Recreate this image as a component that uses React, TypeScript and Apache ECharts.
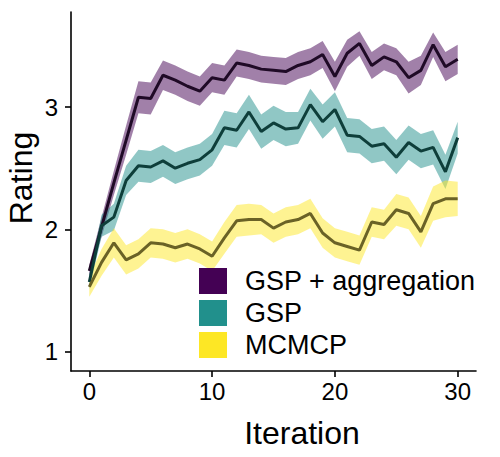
import React, { useEffect, useRef } from "react";
import * as echarts from "echarts";

const iterations = Array.from({ length: 31 }, (_, i) => i);

const aggMean = [1.66, 2.02, 2.38, 2.73, 3.08, 3.07, 3.26, 3.22, 3.17, 3.13, 3.24, 3.22, 3.36, 3.34, 3.31, 3.30, 3.29, 3.34, 3.37, 3.43, 3.25, 3.44, 3.52, 3.34, 3.41, 3.37, 3.24, 3.30, 3.51, 3.33, 3.39];
const aggSe = [0.05, 0.08, 0.10, 0.12, 0.13, 0.13, 0.12, 0.12, 0.12, 0.12, 0.12, 0.12, 0.11, 0.11, 0.11, 0.11, 0.11, 0.11, 0.11, 0.11, 0.12, 0.11, 0.10, 0.11, 0.11, 0.11, 0.13, 0.12, 0.10, 0.12, 0.12];

const gspMean = [1.57, 2.03, 2.10, 2.40, 2.52, 2.51, 2.56, 2.50, 2.54, 2.57, 2.65, 2.83, 2.81, 2.96, 2.80, 2.87, 2.82, 2.83, 3.02, 2.88, 2.98, 2.77, 2.76, 2.68, 2.70, 2.59, 2.71, 2.64, 2.67, 2.47, 2.75];
const gspSe = [0.06, 0.09, 0.11, 0.12, 0.13, 0.13, 0.13, 0.13, 0.13, 0.13, 0.13, 0.14, 0.14, 0.14, 0.14, 0.14, 0.14, 0.13, 0.13, 0.14, 0.14, 0.14, 0.14, 0.14, 0.14, 0.14, 0.14, 0.14, 0.14, 0.14, 0.13];

const mcmcpMean = [1.53, 1.73, 1.89, 1.75, 1.80, 1.89, 1.88, 1.85, 1.88, 1.84, 1.78, 1.93, 2.07, 2.08, 2.08, 2.01, 2.06, 2.08, 2.13, 1.97, 1.89, 1.86, 1.83, 2.06, 2.04, 2.16, 2.13, 1.98, 2.21, 2.25, 2.25];
const mcmcpSe = [0.08, 0.11, 0.12, 0.12, 0.12, 0.12, 0.12, 0.12, 0.12, 0.12, 0.12, 0.13, 0.13, 0.13, 0.12, 0.12, 0.12, 0.12, 0.12, 0.12, 0.12, 0.12, 0.12, 0.12, 0.12, 0.13, 0.13, 0.13, 0.14, 0.15, 0.14];

const groupNames = ["GSP + aggregation", "GSP", "MCMCP"];
const fillColors = ["#440154", "#21908C", "#FDE725"];
const lineColors = ["#1f0a26", "#0e3e3a", "#6a6226"];
const xTicks = [0, 10, 20, 30];
const yTicks = [1, 2, 3];

const FONT = "Liberation Sans, Arial, Helvetica, sans-serif";

export default function App() {
  const ref = useRef<HTMLDivElement>(null);

  useEffect(() => {
    if (!ref.current) return;
    const chart = echarts.init(ref.current, undefined, { renderer: "svg" });

    const groups = [
      { mean: aggMean, se: aggSe },
      { mean: gspMean, se: gspSe },
      { mean: mcmcpMean, se: mcmcpSe },
    ];

    const bandSeries: any[] = [];
    const lineSeries: any[] = [];
    groups.forEach((g, gi) => {
      const rows = iterations.map((x, i) => [x, g.mean[i] - g.se[i], g.mean[i] + g.se[i]]);
      bandSeries.push({
        type: "custom",
        name: groupNames[gi] + " band",
        data: rows,
        silent: true,
        z: 1,
        encode: { x: 0, y: [1, 2] },
        renderItem: (params: any, api: any) => {
          if (params.dataIndex !== 0) return null;
          const upper = rows.map((r) => api.coord([r[0], r[2]]));
          const lower = rows.map((r) => api.coord([r[0], r[1]])).reverse();
          return {
            type: "polygon",
            shape: { points: upper.concat(lower) },
            style: { fill: fillColors[gi], opacity: 0.5 },
          };
        },
      });
      lineSeries.push({
        type: "line",
        name: groupNames[gi],
        data: iterations.map((x, i) => [x, g.mean[i]]),
        symbol: "none",
        lineStyle: { color: lineColors[gi], width: 3 },
        silent: true,
        z: 2,
      });
    });

    const legendItems: any[] = [];
    groupNames.forEach((n, i) => {
      legendItems.push({
        type: "rect",
        z: 10,
        shape: { x: 199, y: 268 + i * 32, width: 28, height: 26 },
        style: { fill: fillColors[i] },
      });
      legendItems.push({
        type: "text",
        z: 10,
        x: 245,
        y: 281 + i * 32,
        style: {
          text: n,
          fontSize: 27,
          fontFamily: FONT,
          fill: "#000",
          verticalAlign: "middle",
          align: "left",
        },
      });
    });

    chart.setOption({
      animation: false,
      grid: { left: 71, right: 24, top: 12, bottom: 86, containLabel: false },
      xAxis: {
        type: "value",
        min: -1.49,
        max: 31.49,
        splitLine: { show: false },
        axisLine: { show: true, onZero: false, lineStyle: { color: "#000", width: 1.6 } },
        axisTick: { show: true, length: 6, lineStyle: { color: "#000", width: 1.6 }, customValues: xTicks },
        axisLabel: { color: "#000", fontSize: 24, fontFamily: FONT, margin: 8, customValues: xTicks },
      },
      yAxis: {
        type: "value",
        min: 0.842,
        max: 3.777,
        splitLine: { show: false },
        axisLine: { show: true, onZero: false, lineStyle: { color: "#000", width: 1.6 } },
        axisTick: { show: true, length: 6, lineStyle: { color: "#000", width: 1.6 }, customValues: yTicks },
        axisLabel: { color: "#000", fontSize: 24, fontFamily: FONT, margin: 13, customValues: yTicks },
      },
      graphic: [
        {
          type: "text",
          x: 302,
          y: 433,
          style: {
            text: "Iteration",
            fontSize: 32,
            fontFamily: FONT,
            fill: "#000",
            align: "center",
            verticalAlign: "middle",
          },
        },
        {
          type: "text",
          x: 21,
          y: 178,
          rotation: Math.PI / 2,
          style: {
            text: "Rating",
            fontSize: 32,
            fontFamily: FONT,
            fill: "#000",
            align: "center",
            verticalAlign: "middle",
          },
        },
        ...legendItems,
      ],
      series: [...bandSeries, ...lineSeries],
    });

    return () => chart.dispose();
  }, []);

  return (
    <div
      ref={ref}
      style={{ position: "absolute", left: 0, top: 0, width: 500, height: 457, background: "#fff" }}
    />
  );
}
